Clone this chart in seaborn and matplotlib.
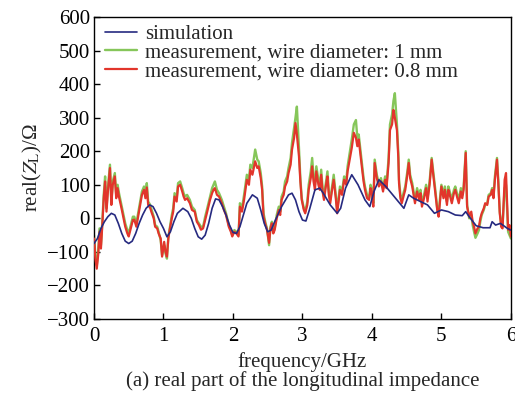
import numpy as np
import pandas as pd
import matplotlib
matplotlib.use("Agg")
import matplotlib.pyplot as plt
import seaborn as sns

sns.set_style("ticks")
plt.rcParams['font.family'] = ['Liberation Serif', 'DejaVu Serif']
plt.rcParams['mathtext.fontset'] = 'stix'

# simulation (smooth curve)
sim_freq = [0.00, 0.05, 0.10, 0.15, 0.20, 0.25, 0.30, 0.35, 0.40, 0.45, 0.50, 0.55, 0.60,
            0.65, 0.70, 0.75, 0.80, 0.85, 0.90, 0.95, 1.00, 1.05, 1.10, 1.15, 1.20, 1.28,
            1.35, 1.40, 1.45, 1.50, 1.55, 1.60, 1.65, 1.70, 1.75, 1.80, 1.85, 1.90, 1.95,
            2.00, 2.05, 2.10, 2.15, 2.20, 2.28, 2.35, 2.40, 2.45, 2.50, 2.55, 2.60, 2.70,
            2.80, 2.85, 2.90, 2.95, 3.00, 3.05, 3.10, 3.18, 3.25, 3.30, 3.40, 3.50, 3.55,
            3.62, 3.71, 3.80, 3.90, 3.97, 4.03, 4.10, 4.20, 4.30, 4.40, 4.46, 4.53, 4.60,
            4.70, 4.80, 4.90, 5.00, 5.10, 5.20, 5.30, 5.35, 5.40, 5.50, 5.60, 5.70, 5.73,
            5.78, 5.85, 5.95, 6.00]
sim_real = [-75, -60, -30, -10, 5, 15, 10, -15, -45, -68, -75, -68, -45,
            -15, 10, 30, 40, 35, 15, -10, -30, -55, -40, -10, 15, 30,
            20, 0, -30, -55, -62, -50, -15, 30, 58, 55, 35, 10, -20,
            -42, -45, -25, 10, 45, 70, 60, 25, -15, -40, -35, -10, 35,
            70, 75, 55, 20, -5, -8, 25, 85, 90, 75, 40, 15, 30,
            90, 130, 100, 55, 35, 80, 115, 95, 70, 45, 30, 70, 60,
            50, 40, 15, 25, 20, 10, 8, 20, 5, -22, -28, -28, -10,
            -20, -15, -30, -35]

# measurements (same frequency grid for both wire diameters)
meas_freq = [0.00, 0.02, 0.04, 0.06, 0.08, 0.10, 0.12, 0.14, 0.16, 0.18, 0.20, 0.23, 0.25,
             0.27, 0.30, 0.32, 0.34, 0.36, 0.40, 0.43, 0.45, 0.48, 0.50, 0.53, 0.56, 0.58,
             0.61, 0.64, 0.66, 0.69, 0.72, 0.74, 0.76, 0.78, 0.81, 0.83, 0.86, 0.88, 0.91,
             0.93, 0.96, 0.98, 1.01, 1.03, 1.05, 1.07, 1.09, 1.12, 1.14, 1.16, 1.19, 1.21,
             1.24, 1.27, 1.29, 1.31, 1.34, 1.38, 1.41, 1.45, 1.48, 1.51, 1.54, 1.57, 1.60,
             1.63, 1.67, 1.70, 1.72, 1.74, 1.77, 1.80, 1.84, 1.87, 1.90, 1.94, 1.97, 1.99,
             2.02, 2.05, 2.08, 2.10, 2.13, 2.16, 2.20, 2.23, 2.25, 2.28, 2.32, 2.35, 2.37,
             2.40, 2.42, 2.44, 2.47, 2.49, 2.52, 2.54, 2.56, 2.58, 2.60, 2.63, 2.66, 2.68,
             2.70, 2.73, 2.75, 2.78, 2.80, 2.83, 2.85, 2.88, 2.90, 2.92, 2.95, 2.97, 2.99,
             3.02, 3.04, 3.07, 3.09, 3.12, 3.14, 3.16, 3.18, 3.20, 3.23, 3.25, 3.27, 3.29,
             3.31, 3.34, 3.36, 3.38, 3.40, 3.43, 3.45, 3.48, 3.50, 3.52, 3.54, 3.57, 3.60,
             3.63, 3.65, 3.68, 3.71, 3.74, 3.77, 3.79, 3.81, 3.84, 3.86, 3.88, 3.90, 3.93,
             3.96, 3.98, 4.00, 4.02, 4.04, 4.07, 4.10, 4.13, 4.16, 4.19, 4.21, 4.24, 4.26,
             4.29, 4.31, 4.33, 4.36, 4.38, 4.39, 4.41, 4.43, 4.46, 4.48, 4.51, 4.53, 4.55,
             4.58, 4.60, 4.62, 4.65, 4.68, 4.70, 4.72, 4.75, 4.78, 4.80, 4.83, 4.86, 4.88,
             4.91, 4.94, 4.96, 4.98, 5.00, 5.03, 5.05, 5.08, 5.10, 5.12, 5.15, 5.18, 5.20,
             5.23, 5.25, 5.28, 5.30, 5.32, 5.35, 5.37, 5.40, 5.43, 5.45, 5.47, 5.49, 5.52,
             5.54, 5.56, 5.58, 5.61, 5.63, 5.66, 5.68, 5.71, 5.73, 5.75, 5.77, 5.80, 5.82,
             5.84, 5.86, 5.88, 5.91, 5.93, 5.96, 5.98, 6.00]

meas_1mm = [-50, -110, -140, -100, -30, -80, -10, 70, 125, 30, 90, 160, 50,
            110, 135, 70, 100, 75, 35, 5, -15, -35, -45, -20, 5, 5,
            -15, 20, 45, 80, 95, 70, 105, 50, 40, 25, 5, -20, -25,
            -40, -65, -110, -80, -105, -120, -55, -30, 10, 30, 75, 60, 105,
            110, 90, 75, 65, 70, 55, 35, 25, -5, -15, -25, -25, 5,
            30, 65, 90, 100, 110, 85, 75, 55, 35, 15, -20, -35, -50,
            -35, -40, -50, 45, 30, 70, 130, 115, 160, 150, 205, 175, 170,
            135, 95, 15, -15, -30, -80, -25, -10, -40, -30, 10, 35, 20,
            65, 80, 110, 125, 150, 180, 225, 270, 300, 333, 210, 120, 60,
            30, 20, 50, 100, 140, 180, 125, 100, 155, 115, 95, 145, 90,
            65, 110, 140, 80, 55, 100, 130, 70, 25, 60, 95, 80, 125,
            110, 155, 195, 235, 280, 293, 240, 250, 195, 160, 120, 95, 70,
            60, 100, 85, 45, 175, 130, 105, 120, 90, 125, 100, 180, 280,
            310, 350, 373, 280, 195, 115, 70, 55, 80, 95, 140, 175, 130,
            105, 80, 55, 90, 65, 85, 45, 70, 100, 60, 110, 180, 145,
            90, 30, 10, 60, 100, 70, 95, 50, 95, 80, 55, 85, 95,
            70, 55, 90, 70, 95, 200, 40, 0, 10, -20, -40, -58, -45,
            -35, -10, 10, 25, 40, 45, 70, 75, 90, 70, 125, 180, 110,
            20, -15, -20, 90, 100, -40, -50, -60]

meas_08mm = [-60, -120, -150, -110, -40, -90, -20, 60, 110, 20, 80, 150, 40,
             100, 125, 60, 90, 64, 26, -5, -25, -45, -54, -30, -5, -4,
             -25, 10, 34, 70, 85, 60, 92, 40, 30, 17, 0, -25, -30,
             -45, -60, -114, -70, -100, -114, -60, -34, 0, 20, 65, 50, 95,
             100, 80, 65, 55, 60, 45, 25, 20, -10, -20, -34, -30, -5,
             20, 55, 75, 85, 90, 70, 65, 45, 25, 10, -25, -40, -54,
             -40, -45, -54, 35, 20, 55, 115, 100, 145, 130, 170, 150, 155,
             120, 85, 5, -20, -34, -73, -30, -15, -45, -35, 0, 25, 10,
             55, 70, 95, 110, 135, 160, 205, 240, 284, 250, 185, 110, 55,
             25, 15, 40, 85, 120, 155, 110, 85, 140, 100, 85, 130, 80,
             55, 100, 125, 70, 45, 90, 115, 60, 15, 50, 85, 70, 115,
             100, 140, 175, 210, 255, 240, 215, 235, 180, 145, 110, 85, 60,
             55, 90, 75, 35, 165, 120, 95, 110, 80, 115, 90, 165, 263,
             280, 323, 300, 263, 180, 105, 60, 45, 70, 85, 130, 165, 120,
             95, 70, 45, 80, 55, 75, 35, 60, 90, 50, 100, 175, 135,
             80, 25, 5, 50, 95, 60, 85, 40, 85, 70, 45, 75, 85,
             60, 45, 80, 60, 85, 195, 35, 5, 20, -10, -25, -45, -30,
             -25, 0, 15, 30, 45, 40, 65, 70, 85, 60, 115, 175, 100,
             15, -25, -30, 115, 135, -34, -20, -54]

labels = ["simulation",
          "measurement, wire diameter: 1 mm",
          "measurement, wire diameter: 0.8 mm"]
colors = ["#262a80", "#86c65a", "#e2352b"]

df_sim = pd.DataFrame({"f": sim_freq, "z": sim_real})
df_1 = pd.DataFrame({"f": meas_freq, "z": meas_1mm})
df_08 = pd.DataFrame({"f": meas_freq, "z": meas_08mm})

fig = plt.figure(figsize=(5.15, 4.05), dpi=100)
ax = fig.add_axes([0.1825, 0.2123, 0.8095, 0.7457])

sns.lineplot(data=df_1, x="f", y="z", ax=ax, color=colors[1], lw=1.7,
             estimator=None, sort=False, label=labels[1], zorder=2)
sns.lineplot(data=df_08, x="f", y="z", ax=ax, color=colors[2], lw=1.6,
             estimator=None, sort=False, label=labels[2], zorder=3)
sns.lineplot(data=df_sim, x="f", y="z", ax=ax, color=colors[0], lw=1.2,
             estimator=None, sort=False, label=labels[0], zorder=4)

ax.set_xlim(0, 6)
ax.set_ylim(-300, 600)
ax.set_xticks(range(0, 7))
ax.set_yticks(range(-300, 601, 100))
ax.tick_params(direction="in", length=4, width=1, labelsize=15, pad=3,
               top=False, right=False, colors="black")
ax.tick_params(axis="x", pad=6)
for s in ax.spines.values():
    s.set_linewidth(1.0)
    s.set_color("black")

ax.set_xlabel("frequency/GHz", fontsize=15, labelpad=4)
ax.set_ylabel("real($Z_{\\rm L}$)/Ω", fontsize=15, labelpad=2)

h, l = ax.get_legend_handles_labels()
order = [l.index(t) for t in labels]
ax.legend([h[i] for i in order], [l[i] for i in order], loc="upper left",
          bbox_to_anchor=(0.008, 1.0),
          frameon=False, fontsize=15, handlelength=1.55, handletextpad=0.4,
          labelspacing=-0.04, borderaxespad=0.05, borderpad=0.3)

fig.text(0.587, 0.06, "(a) real part of the longitudinal impedance",
         ha="center", va="center", fontsize=15)

fig.savefig("out.png", dpi=100)
